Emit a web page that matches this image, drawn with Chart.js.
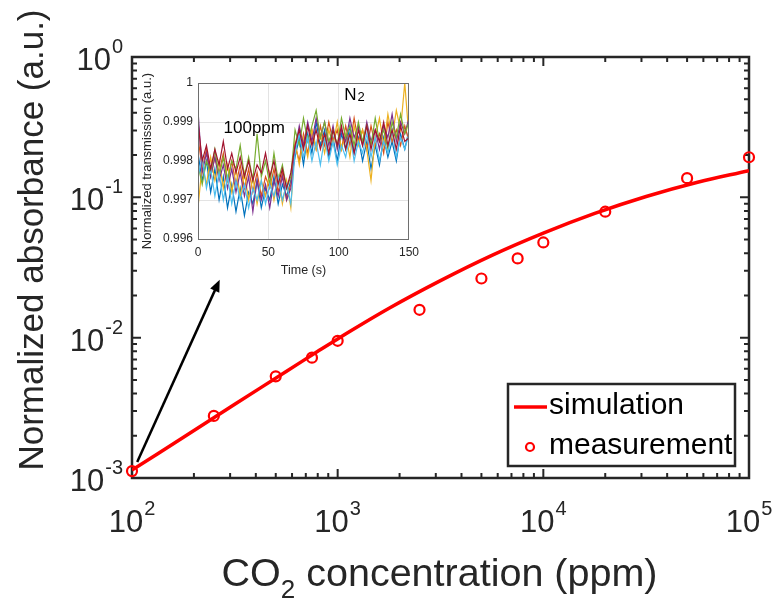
<!DOCTYPE html>
<html lang="en">
<head>
    <meta charset="UTF-8">
    <title>CO2 absorbance</title>
    <script src="https://cdn.jsdelivr.net/npm/chart.js"></script>
    <style>
        body {
            margin: 0;
            background-color: white;
        }
        .wrap {
            position: relative;
            width: 779px;
            height: 607px;
        }
        #insetChart {
            position: absolute;
            left: 140px;
            top: 62px;
        }
    </style>
</head>
<body>
    <div class="wrap">
        <canvas id="mainChart" width="779" height="607"></canvas>
        <canvas id="insetChart" width="285" height="220"></canvas>
    </div>

    <script>
        // main plot: measured points
        const concentration = [100, 250, 500, 750, 1000, 2500, 5000, 7500, 10000, 20000, 50000, 100000];
        const measured = [0.00112, 0.00277, 0.0053, 0.0072, 0.0095, 0.0158, 0.0264, 0.0367, 0.0477, 0.079, 0.137, 0.193];

        // main plot: simulation curve
        const simConc = [100, 178, 316, 562, 794, 1000, 1778, 3162, 5623, 10000, 17783, 31623, 56234, 100000];
        const simAbs = [0.00114, 0.00195, 0.00335, 0.00574, 0.00793, 0.0098, 0.0162, 0.0255, 0.0386, 0.0556, 0.0768, 0.1014, 0.1281, 0.1549];

        // tick labels (powers of ten)
        const xTickExps = [2, 3, 4, 5];
        const yTickExps = [-3, -2, -1, 0];

        // arrow pointing from the 100 ppm point to the inset
        const arrowFrom = [106, 0.0013];
        const arrowTo = [267, 0.0259];

        // inset: time axis and transmission traces
        const time = [0, 3, 6, 9, 12, 15, 18, 21, 24, 27, 30, 33, 36, 39, 42, 45, 48, 51, 54, 57,
            60, 63, 66, 69, 72, 75, 78, 81, 84, 87, 90, 93, 96, 99, 102, 105, 108, 111, 114, 117,
            120, 123, 126, 129, 132, 135, 138, 141, 144, 147, 150];
        const yTickInset = [0.996, 0.997, 0.998, 0.999, 1];

        const traceBlue = [0.9982, 0.9975, 0.9980, 0.9972, 0.9978, 0.9970, 0.9976, 0.9968, 0.9974, 0.9967,
            0.9973, 0.9966, 0.9972, 0.9969, 0.9975, 0.9968, 0.9973, 0.9970, 0.9976, 0.9969,
            0.9974, 0.9971, 0.9975, 0.9981, 0.9986, 0.9979, 0.9987, 0.9982, 0.9990, 0.9984,
            0.9988, 0.9981, 0.9986, 0.9980, 0.9987, 0.9983, 0.9989, 0.9982, 0.9986, 0.9980,
            0.9985, 0.9978, 0.9984, 0.9979, 0.9986, 0.9981, 0.9985, 0.9980, 0.9987, 0.9983, 0.9988];
        const traceOrange = [0.9986, 0.9978, 0.9983, 0.9976, 0.9981, 0.9977, 0.9982, 0.9975, 0.9980, 0.9974,
            0.9979, 0.9973, 0.9978, 0.9972, 0.9977, 0.9971, 0.9976, 0.9973, 0.9978, 0.9972,
            0.9977, 0.9970, 0.9974, 0.9984, 0.9980, 0.9987, 0.9982, 0.9988, 0.9983, 0.9989,
            0.9984, 0.9990, 0.9985, 0.9988, 0.9983, 0.9989, 0.9984, 0.9991, 0.9985, 0.9988,
            0.9983, 0.9989, 0.9984, 0.9987, 0.9982, 0.9990, 0.9985, 0.9988, 0.9984, 0.9989, 0.9985];
        const traceYellow = [0.9968, 0.9979, 0.9974, 0.9981, 0.9975, 0.9980, 0.9973, 0.9979, 0.9972, 0.9978,
            0.9971, 0.9977, 0.9970, 0.9976, 0.9969, 0.9975, 0.9971, 0.9977, 0.9970, 0.9976,
            0.9969, 0.9975, 0.9968, 0.9985, 0.9979, 0.9986, 0.9981, 0.9988, 0.9983, 0.9987,
            0.9982, 0.9988, 0.9984, 0.9990, 0.9983, 0.9987, 0.9981, 0.9989, 0.9984, 0.9988,
            0.9983, 0.9975, 0.9986, 0.9991, 0.9984, 0.9992, 0.9986, 0.9993, 0.9988, 1.0000, 0.9986];
        const tracePurple = [0.9993, 0.9977, 0.9982, 0.9976, 0.9981, 0.9975, 0.9979, 0.9973, 0.9978, 0.9972,
            0.9977, 0.9971, 0.9976, 0.9967, 0.9975, 0.9970, 0.9974, 0.9968, 0.9975, 0.9971,
            0.9976, 0.9970, 0.9973, 0.9983, 0.9989, 0.9984, 0.9990, 0.9985, 0.9991, 0.9986,
            0.9990, 0.9984, 0.9989, 0.9983, 0.9988, 0.9985, 0.9991, 0.9986, 0.9989, 0.9984,
            0.9990, 0.9985, 0.9988, 0.9983, 0.9989, 0.9986, 0.9992, 0.9985, 0.9990, 0.9987, 0.9991];
        const traceGreen = [0.9979, 0.9974, 0.9980, 0.9977, 0.9983, 0.9976, 0.9981, 0.9975, 0.9980, 0.9978,
            0.9984, 0.9976, 0.9981, 0.9975, 0.9987, 0.9976, 0.9980, 0.9974, 0.9982, 0.9975,
            0.9979, 0.9973, 0.9976, 0.9988, 0.9984, 0.9991, 0.9985, 0.9989, 0.9993, 0.9986,
            0.9990, 0.9985, 0.9988, 0.9984, 0.9991, 0.9986, 0.9989, 0.9984, 0.9990, 0.9985,
            0.9989, 0.9984, 0.9991, 0.9985, 0.9988, 0.9983, 0.9990, 0.9986, 0.9992, 0.9987, 0.9990];
        const traceCyan = [0.9976, 0.9981, 0.9973, 0.9978, 0.9971, 0.9977, 0.9970, 0.9976, 0.9969, 0.9975,
            0.9970, 0.9974, 0.9968, 0.9973, 0.9970, 0.9975, 0.9969, 0.9974, 0.9971, 0.9976,
            0.9970, 0.9974, 0.9969, 0.9982, 0.9987, 0.9981, 0.9986, 0.9980, 0.9985, 0.9979,
            0.9986, 0.9980, 0.9985, 0.9979, 0.9984, 0.9981, 0.9987, 0.9980, 0.9985, 0.9982,
            0.9987, 0.9981, 0.9986, 0.9980, 0.9985, 0.9982, 0.9988, 0.9981, 0.9986, 0.9983, 0.9987];
        const traceRed = [0.9990, 0.9980, 0.9984, 0.9978, 0.9983, 0.9979, 0.9985, 0.9978, 0.9982, 0.9977,
            0.9981, 0.9976, 0.9980, 0.9975, 0.9979, 0.9977, 0.9982, 0.9976, 0.9980, 0.9974,
            0.9978, 0.9973, 0.9977, 0.9984, 0.9988, 0.9983, 0.9989, 0.9984, 0.9988, 0.9983,
            0.9987, 0.9982, 0.9988, 0.9984, 0.9989, 0.9983, 0.9987, 0.9982, 0.9988, 0.9984,
            0.9989, 0.9983, 0.9988, 0.9985, 0.9990, 0.9984, 0.9988, 0.9983, 0.9989, 0.9985, 0.9986];

        const traces = [traceBlue, traceOrange, traceYellow, tracePurple, traceGreen, traceCyan, traceRed];
        const traceColors = ['#0072BD', '#D95319', '#EDB120', '#7E2F8E', '#77AC30', '#4DBEEE', '#A2142F'];

        const FONT = "'Liberation Sans', Arial, sans-serif";
        const AXIS = '#262626';

        // draws "10" with a raised exponent
        function drawPow(ctx, exp, x, baseline, align) {
            ctx.font = '31px ' + FONT;
            const w1 = ctx.measureText('10').width;
            ctx.font = '20px ' + FONT;
            const sup = String(exp);
            const w2 = ctx.measureText(sup).width;
            const total = w1 + w2 + 1;
            let x0 = align === 'center' ? x - total / 2 : x - total;
            ctx.textAlign = 'left';
            ctx.textBaseline = 'alphabetic';
            ctx.font = '31px ' + FONT;
            ctx.fillText('10', x0, baseline);
            ctx.font = '20px ' + FONT;
            ctx.fillText(sup, x0 + w1 + 1, baseline - 17);
        }

        const mainDecor = {
            id: 'mainDecor',
            beforeDatasetsDraw(chart) {
                const ctx = chart.ctx;
                const a = chart.chartArea;
                const xs = chart.scales.x, ys = chart.scales.y;
                ctx.save();

                // tick marks, inward, all four sides
                ctx.strokeStyle = AXIS;
                ctx.lineWidth = 2;
                ctx.beginPath();
                xTickExps.forEach((e, i) => {
                    for (let k = 1; k <= 9; k++) {
                        if (k > 1 && i === xTickExps.length - 1) break;
                        const px = xs.getPixelForValue(k * Math.pow(10, e));
                        const len = k === 1 ? 9 : 5;
                        ctx.moveTo(px, a.bottom); ctx.lineTo(px, a.bottom - len);
                        ctx.moveTo(px, a.top); ctx.lineTo(px, a.top + len);
                    }
                });
                yTickExps.forEach((e, i) => {
                    for (let k = 1; k <= 9; k++) {
                        if (k > 1 && i === yTickExps.length - 1) break;
                        const py = ys.getPixelForValue(k * Math.pow(10, e));
                        const len = k === 1 ? 9 : 5;
                        ctx.moveTo(a.left, py); ctx.lineTo(a.left + len, py);
                        ctx.moveTo(a.right, py); ctx.lineTo(a.right - len, py);
                    }
                });
                ctx.stroke();

                // axis box
                ctx.lineWidth = 2.5;
                ctx.strokeRect(a.left, a.top, a.right - a.left, a.bottom - a.top);

                // tick labels
                ctx.fillStyle = AXIS;
                xTickExps.forEach(e => {
                    drawPow(ctx, e, xs.getPixelForValue(Math.pow(10, e)), 532, 'center');
                });
                yTickExps.forEach(e => {
                    drawPow(ctx, e, 123, ys.getPixelForValue(Math.pow(10, e)) + 13, 'right');
                });

                // x title with subscript
                ctx.textBaseline = 'alphabetic';
                ctx.textAlign = 'left';
                ctx.font = '39.5px ' + FONT;
                const p1 = 'CO', p2 = ' concentration (ppm)';
                const w1 = ctx.measureText(p1).width;
                const w3 = ctx.measureText(p2).width;
                ctx.font = '26px ' + FONT;
                const w2 = ctx.measureText('2').width;
                let tx = (a.left + a.right) / 2 - (w1 + w2 + w3) / 2 - 1;
                ctx.font = '39.5px ' + FONT;
                ctx.fillText(p1, tx, 586);
                ctx.font = '26px ' + FONT;
                ctx.fillText('2', tx + w1, 598);
                ctx.font = '39.5px ' + FONT;
                ctx.fillText(p2, tx + w1 + w2, 586);

                // y title
                ctx.translate(33, 240);
                ctx.rotate(-Math.PI / 2);
                ctx.textAlign = 'center';
                ctx.textBaseline = 'middle';
                ctx.font = '35px ' + FONT;
                ctx.fillText('Normalized absorbance (a.u.)', 0, 0);
                ctx.restore();
            },
            afterDatasetsDraw(chart) {
                const ctx = chart.ctx;
                const xs = chart.scales.x, ys = chart.scales.y;
                ctx.save();

                // arrow
                const x0 = xs.getPixelForValue(arrowFrom[0]), y0 = ys.getPixelForValue(arrowFrom[1]);
                const x1 = xs.getPixelForValue(arrowTo[0]), y1 = ys.getPixelForValue(arrowTo[1]);
                const ang = Math.atan2(y1 - y0, x1 - x0);
                ctx.strokeStyle = '#000';
                ctx.fillStyle = '#000';
                ctx.lineWidth = 2.5;
                ctx.beginPath();
                ctx.moveTo(x0, y0);
                ctx.lineTo(x1 - 9 * Math.cos(ang), y1 - 9 * Math.sin(ang));
                ctx.stroke();
                ctx.beginPath();
                ctx.moveTo(x1, y1);
                ctx.lineTo(x1 - 12 * Math.cos(ang) + 5 * Math.sin(ang), y1 - 12 * Math.sin(ang) - 5 * Math.cos(ang));
                ctx.lineTo(x1 - 12 * Math.cos(ang) - 5 * Math.sin(ang), y1 - 12 * Math.sin(ang) + 5 * Math.cos(ang));
                ctx.closePath();
                ctx.fill();

                // legend
                const lx = 508, ly = 384, lw = 227, lh = 82;
                ctx.fillStyle = '#fff';
                ctx.fillRect(lx, ly, lw, lh);
                ctx.strokeStyle = AXIS;
                ctx.lineWidth = 2.5;
                ctx.strokeRect(lx, ly, lw, lh);
                ctx.strokeStyle = '#ff0000';
                ctx.lineWidth = 3.5;
                ctx.beginPath();
                ctx.moveTo(514, 407);
                ctx.lineTo(547, 407);
                ctx.stroke();
                ctx.lineWidth = 2.2;
                ctx.beginPath();
                ctx.arc(530, 447, 4, 0, Math.PI * 2);
                ctx.stroke();
                ctx.fillStyle = '#000';
                ctx.font = '30px ' + FONT;
                ctx.textAlign = 'left';
                ctx.textBaseline = 'middle';
                ctx.fillText(chart.data.datasets[0].label, 549, 406);
                ctx.fillText(chart.data.datasets[1].label, 549, 446);
                ctx.restore();
            }
        };

        new Chart(document.getElementById('mainChart'), {
            type: 'line',
            data: {
                datasets: [{
                    label: 'simulation',
                    data: simConc.map((c, i) => ({ x: c, y: simAbs[i] })),
                    borderColor: '#ff0000',
                    borderWidth: 3.5,
                    pointRadius: 0,
                    tension: 0.4,
                    order: 2
                }, {
                    label: 'measurement',
                    data: concentration.map((c, i) => ({ x: c, y: measured[i] })),
                    showLine: false,
                    pointRadius: 5,
                    pointBorderWidth: 2.2,
                    pointBorderColor: '#ff0000',
                    pointBackgroundColor: 'rgba(0,0,0,0)',
                    clip: false,
                    order: 1
                }]
            },
            options: {
                responsive: false,
                animation: false,
                layout: { padding: { left: 132, right: 30, top: 57, bottom: 129 } },
                plugins: { legend: { display: false }, tooltip: { enabled: false } },
                scales: {
                    x: { type: 'logarithmic', min: 100, max: 100000, display: false },
                    y: { type: 'logarithmic', min: 0.001, max: 1, display: false }
                }
            },
            plugins: [mainDecor]
        });

        // inset
        const insetDecor = {
            id: 'insetDecor',
            beforeDraw(chart) {
                const a = chart.chartArea;
                chart.ctx.save();
                chart.ctx.fillStyle = '#fff';
                chart.ctx.fillRect(a.left, a.top, a.right - a.left, a.bottom - a.top);
                chart.ctx.restore();
            },
            afterDatasetsDraw(chart) {
                const ctx = chart.ctx;
                const a = chart.chartArea;
                const xs = chart.scales.x, ys = chart.scales.y;
                ctx.save();
                ctx.strokeStyle = '#6e6e6e';
                ctx.lineWidth = 1;
                ctx.strokeRect(a.left + 0.5, a.top + 0.5, a.right - a.left - 1, a.bottom - a.top);
                ctx.fillStyle = '#000';
                ctx.textBaseline = 'middle';
                ctx.textAlign = 'center';
                ctx.font = '17px ' + FONT;
                ctx.fillText('100ppm', xs.getPixelForValue(40), ys.getPixelForValue(0.99884));
                ctx.textAlign = 'left';
                const nx = xs.getPixelForValue(104), ny = ys.getPixelForValue(0.99969);
                ctx.fillText('N', nx, ny);
                const nw = ctx.measureText('N').width;
                ctx.font = '13px ' + FONT;
                ctx.fillText('2', nx + nw + 1, ny + 2);
                ctx.restore();
            }
        };

        new Chart(document.getElementById('insetChart'), {
            type: 'line',
            data: {
                datasets: traces.map((tr, j) => ({
                    data: time.map((t, i) => ({ x: t, y: tr[i] })),
                    borderColor: traceColors[j],
                    borderWidth: 1.2,
                    pointRadius: 0,
                    tension: 0,
                    order: traces.length - j
                }))
            },
            options: {
                responsive: false,
                animation: false,
                layout: { padding: { left: 0, right: 16, top: 21, bottom: 0 } },
                plugins: { legend: { display: false }, tooltip: { enabled: false } },
                scales: {
                    x: {
                        type: 'linear', min: 0, max: 150,
                        ticks: { stepSize: 50, padding: 6, color: AXIS, font: { family: FONT, size: 12 } },
                        grid: { color: '#e3e3e3', drawTicks: false },
                        border: { display: false },
                        title: { display: true, text: 'Time (s)', color: AXIS, padding: { top: 0, bottom: 4 }, font: { family: FONT, size: 12.5 } },
                        afterFit(s) { s.height = 43; }
                    },
                    y: {
                        min: 0.996, max: 1,
                        afterBuildTicks(s) { s.ticks = yTickInset.map(v => ({ value: v })); },
                        ticks: {
                            padding: 5, color: AXIS, font: { family: FONT, size: 12 },
                            callback: v => (v === 1 ? '1' : v.toFixed(3))
                        },
                        grid: { color: '#e3e3e3', drawTicks: false },
                        border: { display: false },
                        title: { display: true, text: 'Normalized transmission (a.u.)', color: AXIS, padding: { top: 0, bottom: 2 }, font: { family: FONT, size: 13 } },
                        afterFit(s) { s.width = 58; }
                    }
                }
            },
            plugins: [insetDecor]
        });
    </script>
</body>
</html>
